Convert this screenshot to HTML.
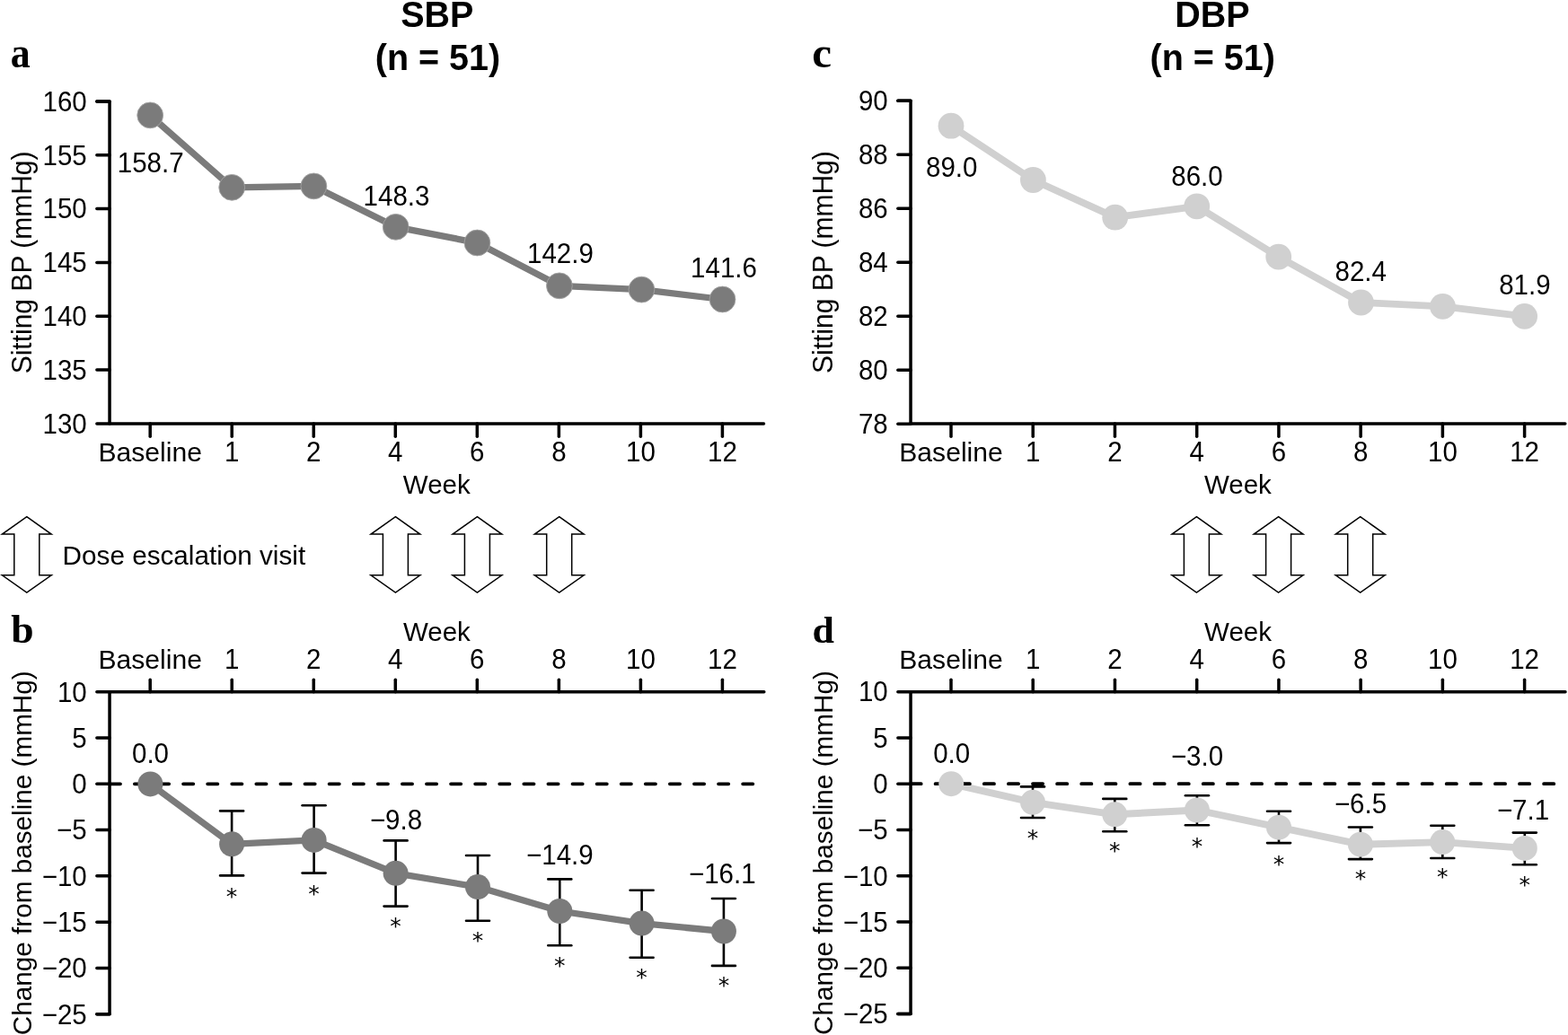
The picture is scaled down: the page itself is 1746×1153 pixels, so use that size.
<!DOCTYPE html>
<html><head><meta charset="utf-8"><title>SBP and DBP over time</title>
<style>html,body{margin:0;padding:0;background:#fff;} svg{display:block;}</style>
</head><body>
<svg width="1746" height="1153" viewBox="0 0 1746 1153">
<rect width="1746" height="1153" fill="#fff"/>
<text transform="translate(486.80,30.20) scale(1,1.045)" text-anchor="middle" font-size="39.5" font-weight="bold" font-family='"Liberation Sans", Arial, sans-serif' >SBP</text>
<text transform="translate(487.40,77.90) scale(1,1.03)" text-anchor="middle" font-size="39.5" font-weight="bold" font-family='"Liberation Sans", Arial, sans-serif' >(n = 51)</text>
<text transform="translate(1350.00,30.20) scale(1,1.045)" text-anchor="middle" font-size="39.5" font-weight="bold" font-family='"Liberation Sans", Arial, sans-serif' >DBP</text>
<text transform="translate(1350.20,77.90) scale(1,1.03)" text-anchor="middle" font-size="39.5" font-weight="bold" font-family='"Liberation Sans", Arial, sans-serif' >(n = 51)</text>
<text transform="translate(11.8,74.7) scale(1.02,1.12)" font-size="43" font-weight="bold" font-family='"Liberation Serif", "Times New Roman", serif'>a</text>
<text transform="translate(904.3,74.6) scale(1.14,1.12)" font-size="43" font-weight="bold" font-family='"Liberation Serif", "Times New Roman", serif'>c</text>
<text transform="translate(12.3,716.0) scale(1.06,1.04)" font-size="43" font-weight="bold" font-family='"Liberation Serif", "Times New Roman", serif'>b</text>
<text transform="translate(904.4,715.5) scale(1.02,1.0)" font-size="43" font-weight="bold" font-family='"Liberation Serif", "Times New Roman", serif'>d</text>
<polyline points="107.85,112.90 122.05,112.90 122.05,471.95 850.50,471.95" fill="none" stroke="#000" stroke-width="3.5" stroke-linecap="round" stroke-linejoin="round" />
<line x1="107.85" y1="112.90" x2="122.05" y2="112.90" stroke="#000" stroke-width="3.5" stroke-linecap="round" />
<text transform="translate(96.75,123.75) scale(1,1.045)" text-anchor="end" font-size="29.5" font-weight="normal" font-family='"Liberation Sans", Arial, sans-serif' >160</text>
<line x1="107.85" y1="172.74" x2="122.05" y2="172.74" stroke="#000" stroke-width="3.5" stroke-linecap="round" />
<text transform="translate(96.75,183.59) scale(1,1.045)" text-anchor="end" font-size="29.5" font-weight="normal" font-family='"Liberation Sans", Arial, sans-serif' >155</text>
<line x1="107.85" y1="232.58" x2="122.05" y2="232.58" stroke="#000" stroke-width="3.5" stroke-linecap="round" />
<text transform="translate(96.75,243.43) scale(1,1.045)" text-anchor="end" font-size="29.5" font-weight="normal" font-family='"Liberation Sans", Arial, sans-serif' >150</text>
<line x1="107.85" y1="292.42" x2="122.05" y2="292.42" stroke="#000" stroke-width="3.5" stroke-linecap="round" />
<text transform="translate(96.75,303.27) scale(1,1.045)" text-anchor="end" font-size="29.5" font-weight="normal" font-family='"Liberation Sans", Arial, sans-serif' >145</text>
<line x1="107.85" y1="352.26" x2="122.05" y2="352.26" stroke="#000" stroke-width="3.5" stroke-linecap="round" />
<text transform="translate(96.75,363.11) scale(1,1.045)" text-anchor="end" font-size="29.5" font-weight="normal" font-family='"Liberation Sans", Arial, sans-serif' >140</text>
<line x1="107.85" y1="412.10" x2="122.05" y2="412.10" stroke="#000" stroke-width="3.5" stroke-linecap="round" />
<text transform="translate(96.75,422.95) scale(1,1.045)" text-anchor="end" font-size="29.5" font-weight="normal" font-family='"Liberation Sans", Arial, sans-serif' >135</text>
<line x1="107.85" y1="471.94" x2="122.05" y2="471.94" stroke="#000" stroke-width="3.5" stroke-linecap="round" />
<text transform="translate(96.75,482.79) scale(1,1.045)" text-anchor="end" font-size="29.5" font-weight="normal" font-family='"Liberation Sans", Arial, sans-serif' >130</text>
<line x1="167.20" y1="471.95" x2="167.20" y2="486.15" stroke="#000" stroke-width="3.5" stroke-linecap="round" />
<text transform="translate(167.20,514.30) scale(1,1.01)" text-anchor="middle" font-size="30.1" font-weight="normal" font-family='"Liberation Sans", Arial, sans-serif' >Baseline</text>
<line x1="258.23" y1="471.95" x2="258.23" y2="486.15" stroke="#000" stroke-width="3.5" stroke-linecap="round" />
<text transform="translate(258.23,514.30) scale(1,1.045)" text-anchor="middle" font-size="29.5" font-weight="normal" font-family='"Liberation Sans", Arial, sans-serif' >1</text>
<line x1="349.26" y1="471.95" x2="349.26" y2="486.15" stroke="#000" stroke-width="3.5" stroke-linecap="round" />
<text transform="translate(349.26,514.30) scale(1,1.045)" text-anchor="middle" font-size="29.5" font-weight="normal" font-family='"Liberation Sans", Arial, sans-serif' >2</text>
<line x1="440.29" y1="471.95" x2="440.29" y2="486.15" stroke="#000" stroke-width="3.5" stroke-linecap="round" />
<text transform="translate(440.29,514.30) scale(1,1.045)" text-anchor="middle" font-size="29.5" font-weight="normal" font-family='"Liberation Sans", Arial, sans-serif' >4</text>
<line x1="531.32" y1="471.95" x2="531.32" y2="486.15" stroke="#000" stroke-width="3.5" stroke-linecap="round" />
<text transform="translate(531.32,514.30) scale(1,1.045)" text-anchor="middle" font-size="29.5" font-weight="normal" font-family='"Liberation Sans", Arial, sans-serif' >6</text>
<line x1="622.35" y1="471.95" x2="622.35" y2="486.15" stroke="#000" stroke-width="3.5" stroke-linecap="round" />
<text transform="translate(622.35,514.30) scale(1,1.045)" text-anchor="middle" font-size="29.5" font-weight="normal" font-family='"Liberation Sans", Arial, sans-serif' >8</text>
<line x1="713.38" y1="471.95" x2="713.38" y2="486.15" stroke="#000" stroke-width="3.5" stroke-linecap="round" />
<text transform="translate(713.38,514.30) scale(1,1.045)" text-anchor="middle" font-size="29.5" font-weight="normal" font-family='"Liberation Sans", Arial, sans-serif' >10</text>
<line x1="804.41" y1="471.95" x2="804.41" y2="486.15" stroke="#000" stroke-width="3.5" stroke-linecap="round" />
<text transform="translate(804.41,514.30) scale(1,1.045)" text-anchor="middle" font-size="29.5" font-weight="normal" font-family='"Liberation Sans", Arial, sans-serif' >12</text>
<text transform="translate(486.27,550.00) scale(1,1.01)" text-anchor="middle" font-size="29.5" font-weight="normal" font-family='"Liberation Sans", Arial, sans-serif' >Week</text>
<text x="0" y="0" transform="translate(35.00,292.43) rotate(-90) scale(1,1.02)" text-anchor="middle" font-size="30.0" font-family='"Liberation Sans", Arial, sans-serif'>Sitting BP (mmHg)</text>
<polyline points="167.20,128.40 258.20,208.80 349.40,207.40 440.70,252.80 531.40,270.50 622.90,318.35 714.40,322.60 804.50,333.50" fill="none" stroke="#7b7b7b" stroke-width="7.3" stroke-linecap="round" stroke-linejoin="round" />
<circle cx="167.20" cy="128.40" r="14.4" fill="#7b7b7b" stroke="#a3a3a3" stroke-width="0.9"/>
<circle cx="258.20" cy="208.80" r="14.4" fill="#7b7b7b" stroke="#a3a3a3" stroke-width="0.9"/>
<circle cx="349.40" cy="207.40" r="14.4" fill="#7b7b7b" stroke="#a3a3a3" stroke-width="0.9"/>
<circle cx="440.70" cy="252.80" r="14.4" fill="#7b7b7b" stroke="#a3a3a3" stroke-width="0.9"/>
<circle cx="531.40" cy="270.50" r="14.4" fill="#7b7b7b" stroke="#a3a3a3" stroke-width="0.9"/>
<circle cx="622.90" cy="318.35" r="14.4" fill="#7b7b7b" stroke="#a3a3a3" stroke-width="0.9"/>
<circle cx="714.40" cy="322.60" r="14.4" fill="#7b7b7b" stroke="#a3a3a3" stroke-width="0.9"/>
<circle cx="804.50" cy="333.50" r="14.4" fill="#7b7b7b" stroke="#a3a3a3" stroke-width="0.9"/>
<text transform="translate(167.70,192.10) scale(1,1.045)" text-anchor="middle" font-size="29.5" font-weight="normal" font-family='"Liberation Sans", Arial, sans-serif' >158.7</text>
<text transform="translate(441.50,228.70) scale(1,1.045)" text-anchor="middle" font-size="29.5" font-weight="normal" font-family='"Liberation Sans", Arial, sans-serif' >148.3</text>
<text transform="translate(623.90,292.70) scale(1,1.045)" text-anchor="middle" font-size="29.5" font-weight="normal" font-family='"Liberation Sans", Arial, sans-serif' >142.9</text>
<text transform="translate(806.00,309.10) scale(1,1.045)" text-anchor="middle" font-size="29.5" font-weight="normal" font-family='"Liberation Sans", Arial, sans-serif' >141.6</text>
<polyline points="999.85,112.20 1014.05,112.20 1014.05,472.10 1742.80,472.10" fill="none" stroke="#000" stroke-width="3.5" stroke-linecap="round" stroke-linejoin="round" />
<line x1="999.85" y1="112.20" x2="1014.05" y2="112.20" stroke="#000" stroke-width="3.5" stroke-linecap="round" />
<text transform="translate(988.75,123.05) scale(1,1.045)" text-anchor="end" font-size="29.5" font-weight="normal" font-family='"Liberation Sans", Arial, sans-serif' >90</text>
<line x1="999.85" y1="172.20" x2="1014.05" y2="172.20" stroke="#000" stroke-width="3.5" stroke-linecap="round" />
<text transform="translate(988.75,183.05) scale(1,1.045)" text-anchor="end" font-size="29.5" font-weight="normal" font-family='"Liberation Sans", Arial, sans-serif' >88</text>
<line x1="999.85" y1="232.20" x2="1014.05" y2="232.20" stroke="#000" stroke-width="3.5" stroke-linecap="round" />
<text transform="translate(988.75,243.05) scale(1,1.045)" text-anchor="end" font-size="29.5" font-weight="normal" font-family='"Liberation Sans", Arial, sans-serif' >86</text>
<line x1="999.85" y1="292.20" x2="1014.05" y2="292.20" stroke="#000" stroke-width="3.5" stroke-linecap="round" />
<text transform="translate(988.75,303.05) scale(1,1.045)" text-anchor="end" font-size="29.5" font-weight="normal" font-family='"Liberation Sans", Arial, sans-serif' >84</text>
<line x1="999.85" y1="352.20" x2="1014.05" y2="352.20" stroke="#000" stroke-width="3.5" stroke-linecap="round" />
<text transform="translate(988.75,363.05) scale(1,1.045)" text-anchor="end" font-size="29.5" font-weight="normal" font-family='"Liberation Sans", Arial, sans-serif' >82</text>
<line x1="999.85" y1="412.20" x2="1014.05" y2="412.20" stroke="#000" stroke-width="3.5" stroke-linecap="round" />
<text transform="translate(988.75,423.05) scale(1,1.045)" text-anchor="end" font-size="29.5" font-weight="normal" font-family='"Liberation Sans", Arial, sans-serif' >80</text>
<line x1="999.85" y1="472.20" x2="1014.05" y2="472.20" stroke="#000" stroke-width="3.5" stroke-linecap="round" />
<text transform="translate(988.75,483.05) scale(1,1.045)" text-anchor="end" font-size="29.5" font-weight="normal" font-family='"Liberation Sans", Arial, sans-serif' >78</text>
<line x1="1059.00" y1="472.10" x2="1059.00" y2="486.30" stroke="#000" stroke-width="3.5" stroke-linecap="round" />
<text transform="translate(1059.00,514.30) scale(1,1.01)" text-anchor="middle" font-size="30.1" font-weight="normal" font-family='"Liberation Sans", Arial, sans-serif' >Baseline</text>
<line x1="1150.23" y1="472.10" x2="1150.23" y2="486.30" stroke="#000" stroke-width="3.5" stroke-linecap="round" />
<text transform="translate(1150.23,514.30) scale(1,1.045)" text-anchor="middle" font-size="29.5" font-weight="normal" font-family='"Liberation Sans", Arial, sans-serif' >1</text>
<line x1="1241.46" y1="472.10" x2="1241.46" y2="486.30" stroke="#000" stroke-width="3.5" stroke-linecap="round" />
<text transform="translate(1241.46,514.30) scale(1,1.045)" text-anchor="middle" font-size="29.5" font-weight="normal" font-family='"Liberation Sans", Arial, sans-serif' >2</text>
<line x1="1332.69" y1="472.10" x2="1332.69" y2="486.30" stroke="#000" stroke-width="3.5" stroke-linecap="round" />
<text transform="translate(1332.69,514.30) scale(1,1.045)" text-anchor="middle" font-size="29.5" font-weight="normal" font-family='"Liberation Sans", Arial, sans-serif' >4</text>
<line x1="1423.92" y1="472.10" x2="1423.92" y2="486.30" stroke="#000" stroke-width="3.5" stroke-linecap="round" />
<text transform="translate(1423.92,514.30) scale(1,1.045)" text-anchor="middle" font-size="29.5" font-weight="normal" font-family='"Liberation Sans", Arial, sans-serif' >6</text>
<line x1="1515.15" y1="472.10" x2="1515.15" y2="486.30" stroke="#000" stroke-width="3.5" stroke-linecap="round" />
<text transform="translate(1515.15,514.30) scale(1,1.045)" text-anchor="middle" font-size="29.5" font-weight="normal" font-family='"Liberation Sans", Arial, sans-serif' >8</text>
<line x1="1606.38" y1="472.10" x2="1606.38" y2="486.30" stroke="#000" stroke-width="3.5" stroke-linecap="round" />
<text transform="translate(1606.38,514.30) scale(1,1.045)" text-anchor="middle" font-size="29.5" font-weight="normal" font-family='"Liberation Sans", Arial, sans-serif' >10</text>
<line x1="1697.61" y1="472.10" x2="1697.61" y2="486.30" stroke="#000" stroke-width="3.5" stroke-linecap="round" />
<text transform="translate(1697.61,514.30) scale(1,1.045)" text-anchor="middle" font-size="29.5" font-weight="normal" font-family='"Liberation Sans", Arial, sans-serif' >12</text>
<text transform="translate(1378.42,550.00) scale(1,1.01)" text-anchor="middle" font-size="29.5" font-weight="normal" font-family='"Liberation Sans", Arial, sans-serif' >Week</text>
<text x="0" y="0" transform="translate(927.00,292.15) rotate(-90) scale(1,1.02)" text-anchor="middle" font-size="30.0" font-family='"Liberation Sans", Arial, sans-serif'>Sitting BP (mmHg)</text>
<polyline points="1059.00,140.20 1150.40,200.50 1241.70,242.20 1332.70,229.80 1423.70,286.10 1515.50,337.00 1606.50,341.40 1697.60,352.40" fill="none" stroke="#d0d0d0" stroke-width="7.9" stroke-linecap="round" stroke-linejoin="round" />
<circle cx="1059.00" cy="140.20" r="14.4" fill="#d0d0d0" stroke="#d0d0d0" stroke-width="0"/>
<circle cx="1150.40" cy="200.50" r="14.4" fill="#d0d0d0" stroke="#d0d0d0" stroke-width="0"/>
<circle cx="1241.70" cy="242.20" r="14.4" fill="#d0d0d0" stroke="#d0d0d0" stroke-width="0"/>
<circle cx="1332.70" cy="229.80" r="14.4" fill="#d0d0d0" stroke="#d0d0d0" stroke-width="0"/>
<circle cx="1423.70" cy="286.10" r="14.4" fill="#d0d0d0" stroke="#d0d0d0" stroke-width="0"/>
<circle cx="1515.50" cy="337.00" r="14.4" fill="#d0d0d0" stroke="#d0d0d0" stroke-width="0"/>
<circle cx="1606.50" cy="341.40" r="14.4" fill="#d0d0d0" stroke="#d0d0d0" stroke-width="0"/>
<circle cx="1697.60" cy="352.40" r="14.4" fill="#d0d0d0" stroke="#d0d0d0" stroke-width="0"/>
<text transform="translate(1059.70,197.20) scale(1,1.045)" text-anchor="middle" font-size="29.5" font-weight="normal" font-family='"Liberation Sans", Arial, sans-serif' >89.0</text>
<text transform="translate(1333.00,206.50) scale(1,1.045)" text-anchor="middle" font-size="29.5" font-weight="normal" font-family='"Liberation Sans", Arial, sans-serif' >86.0</text>
<text transform="translate(1515.20,313.00) scale(1,1.045)" text-anchor="middle" font-size="29.5" font-weight="normal" font-family='"Liberation Sans", Arial, sans-serif' >82.4</text>
<text transform="translate(1697.90,328.10) scale(1,1.045)" text-anchor="middle" font-size="29.5" font-weight="normal" font-family='"Liberation Sans", Arial, sans-serif' >81.9</text>
<polygon points="29.80,575.60 57.20,595.10 43.80,595.10 43.80,640.80 57.20,640.80 29.80,660.00 2.40,640.80 15.80,640.80 15.80,595.10 2.40,595.10" fill="#fff" stroke="#000" stroke-width="1.5" stroke-linejoin="miter"/>
<polygon points="440.40,575.60 467.80,595.10 454.40,595.10 454.40,640.80 467.80,640.80 440.40,660.00 413.00,640.80 426.40,640.80 426.40,595.10 413.00,595.10" fill="#fff" stroke="#000" stroke-width="1.5" stroke-linejoin="miter"/>
<polygon points="531.40,575.60 558.80,595.10 545.40,595.10 545.40,640.80 558.80,640.80 531.40,660.00 504.00,640.80 517.40,640.80 517.40,595.10 504.00,595.10" fill="#fff" stroke="#000" stroke-width="1.5" stroke-linejoin="miter"/>
<polygon points="622.70,575.60 650.10,595.10 636.70,595.10 636.70,640.80 650.10,640.80 622.70,660.00 595.30,640.80 608.70,640.80 608.70,595.10 595.30,595.10" fill="#fff" stroke="#000" stroke-width="1.5" stroke-linejoin="miter"/>
<polygon points="1332.40,575.60 1359.80,595.10 1346.40,595.10 1346.40,640.80 1359.80,640.80 1332.40,660.00 1305.00,640.80 1318.40,640.80 1318.40,595.10 1305.00,595.10" fill="#fff" stroke="#000" stroke-width="1.5" stroke-linejoin="miter"/>
<polygon points="1423.60,575.60 1451.00,595.10 1437.60,595.10 1437.60,640.80 1451.00,640.80 1423.60,660.00 1396.20,640.80 1409.60,640.80 1409.60,595.10 1396.20,595.10" fill="#fff" stroke="#000" stroke-width="1.5" stroke-linejoin="miter"/>
<polygon points="1514.70,575.60 1542.10,595.10 1528.70,595.10 1528.70,640.80 1542.10,640.80 1514.70,660.00 1487.30,640.80 1500.70,640.80 1500.70,595.10 1487.30,595.10" fill="#fff" stroke="#000" stroke-width="1.5" stroke-linejoin="miter"/>
<text transform="translate(69.60,628.90) scale(1,1.01)" text-anchor="start" font-size="29.7" font-weight="normal" font-family='"Liberation Sans", Arial, sans-serif' >Dose escalation visit</text>
<polyline points="850.80,770.73 122.05,770.73 122.05,1129.72 107.85,1129.72" fill="none" stroke="#000" stroke-width="3.5" stroke-linecap="round" stroke-linejoin="round" />
<line x1="107.85" y1="770.73" x2="122.05" y2="770.73" stroke="#000" stroke-width="3.5" stroke-linecap="round" />
<text transform="translate(96.75,781.58) scale(1,1.045)" text-anchor="end" font-size="29.5" font-weight="normal" font-family='"Liberation Sans", Arial, sans-serif' >10</text>
<line x1="107.85" y1="822.01" x2="122.05" y2="822.01" stroke="#000" stroke-width="3.5" stroke-linecap="round" />
<text transform="translate(96.75,832.87) scale(1,1.045)" text-anchor="end" font-size="29.5" font-weight="normal" font-family='"Liberation Sans", Arial, sans-serif' >5</text>
<line x1="107.85" y1="873.30" x2="122.05" y2="873.30" stroke="#000" stroke-width="3.5" stroke-linecap="round" />
<text transform="translate(96.75,884.15) scale(1,1.045)" text-anchor="end" font-size="29.5" font-weight="normal" font-family='"Liberation Sans", Arial, sans-serif' >0</text>
<line x1="107.85" y1="924.58" x2="122.05" y2="924.58" stroke="#000" stroke-width="3.5" stroke-linecap="round" />
<text transform="translate(96.75,935.43) scale(1,1.045)" text-anchor="end" font-size="29.5" font-weight="normal" font-family='"Liberation Sans", Arial, sans-serif' >−5</text>
<line x1="107.85" y1="975.87" x2="122.05" y2="975.87" stroke="#000" stroke-width="3.5" stroke-linecap="round" />
<text transform="translate(96.75,986.72) scale(1,1.045)" text-anchor="end" font-size="29.5" font-weight="normal" font-family='"Liberation Sans", Arial, sans-serif' >−10</text>
<line x1="107.85" y1="1027.15" x2="122.05" y2="1027.15" stroke="#000" stroke-width="3.5" stroke-linecap="round" />
<text transform="translate(96.75,1038.00) scale(1,1.045)" text-anchor="end" font-size="29.5" font-weight="normal" font-family='"Liberation Sans", Arial, sans-serif' >−15</text>
<line x1="107.85" y1="1078.44" x2="122.05" y2="1078.44" stroke="#000" stroke-width="3.5" stroke-linecap="round" />
<text transform="translate(96.75,1089.29) scale(1,1.045)" text-anchor="end" font-size="29.5" font-weight="normal" font-family='"Liberation Sans", Arial, sans-serif' >−20</text>
<line x1="107.85" y1="1129.72" x2="122.05" y2="1129.72" stroke="#000" stroke-width="3.5" stroke-linecap="round" />
<text transform="translate(96.75,1140.57) scale(1,1.045)" text-anchor="end" font-size="29.5" font-weight="normal" font-family='"Liberation Sans", Arial, sans-serif' >−25</text>
<line x1="167.20" y1="770.73" x2="167.20" y2="757.23" stroke="#000" stroke-width="3.5" stroke-linecap="round" />
<text transform="translate(167.20,745.30) scale(1,1.01)" text-anchor="middle" font-size="30.1" font-weight="normal" font-family='"Liberation Sans", Arial, sans-serif' >Baseline</text>
<line x1="258.23" y1="770.73" x2="258.23" y2="757.23" stroke="#000" stroke-width="3.5" stroke-linecap="round" />
<text transform="translate(258.23,745.30) scale(1,1.045)" text-anchor="middle" font-size="29.5" font-weight="normal" font-family='"Liberation Sans", Arial, sans-serif' >1</text>
<line x1="349.26" y1="770.73" x2="349.26" y2="757.23" stroke="#000" stroke-width="3.5" stroke-linecap="round" />
<text transform="translate(349.26,745.30) scale(1,1.045)" text-anchor="middle" font-size="29.5" font-weight="normal" font-family='"Liberation Sans", Arial, sans-serif' >2</text>
<line x1="440.29" y1="770.73" x2="440.29" y2="757.23" stroke="#000" stroke-width="3.5" stroke-linecap="round" />
<text transform="translate(440.29,745.30) scale(1,1.045)" text-anchor="middle" font-size="29.5" font-weight="normal" font-family='"Liberation Sans", Arial, sans-serif' >4</text>
<line x1="531.32" y1="770.73" x2="531.32" y2="757.23" stroke="#000" stroke-width="3.5" stroke-linecap="round" />
<text transform="translate(531.32,745.30) scale(1,1.045)" text-anchor="middle" font-size="29.5" font-weight="normal" font-family='"Liberation Sans", Arial, sans-serif' >6</text>
<line x1="622.35" y1="770.73" x2="622.35" y2="757.23" stroke="#000" stroke-width="3.5" stroke-linecap="round" />
<text transform="translate(622.35,745.30) scale(1,1.045)" text-anchor="middle" font-size="29.5" font-weight="normal" font-family='"Liberation Sans", Arial, sans-serif' >8</text>
<line x1="713.38" y1="770.73" x2="713.38" y2="757.23" stroke="#000" stroke-width="3.5" stroke-linecap="round" />
<text transform="translate(713.38,745.30) scale(1,1.045)" text-anchor="middle" font-size="29.5" font-weight="normal" font-family='"Liberation Sans", Arial, sans-serif' >10</text>
<line x1="804.41" y1="770.73" x2="804.41" y2="757.23" stroke="#000" stroke-width="3.5" stroke-linecap="round" />
<text transform="translate(804.41,745.30) scale(1,1.045)" text-anchor="middle" font-size="29.5" font-weight="normal" font-family='"Liberation Sans", Arial, sans-serif' >12</text>
<text transform="translate(486.42,713.90) scale(1,1.01)" text-anchor="middle" font-size="29.5" font-weight="normal" font-family='"Liberation Sans", Arial, sans-serif' >Week</text>
<text x="0" y="0" transform="translate(35.00,950.23) rotate(-90) scale(1,1.02)" text-anchor="middle" font-size="29.7" font-family='"Liberation Sans", Arial, sans-serif'>Change from baseline (mmHg)</text>
<polyline points="167.40,873.40 258.10,940.30 349.60,935.90 440.60,972.80 532.00,988.10 623.30,1015.00 714.60,1028.60 805.90,1037.50" fill="none" stroke="#7b7b7b" stroke-width="7.3" stroke-linecap="round" stroke-linejoin="round" />
<line x1="122.80" y1="873.30" x2="838.50" y2="873.30" stroke="#000" stroke-width="3.8" stroke-linecap="round" stroke-dasharray="11.2 15.89"/>
<line x1="258.10" y1="903.40" x2="258.10" y2="975.40" stroke="#000" stroke-width="2.6" stroke-linecap="butt" />
<line x1="245.10" y1="903.40" x2="271.10" y2="903.40" stroke="#000" stroke-width="2.6" stroke-linecap="round" />
<line x1="245.10" y1="975.40" x2="271.10" y2="975.40" stroke="#000" stroke-width="2.6" stroke-linecap="round" />
<line x1="349.60" y1="897.30" x2="349.60" y2="972.60" stroke="#000" stroke-width="2.6" stroke-linecap="butt" />
<line x1="336.60" y1="897.30" x2="362.60" y2="897.30" stroke="#000" stroke-width="2.6" stroke-linecap="round" />
<line x1="336.60" y1="972.60" x2="362.60" y2="972.60" stroke="#000" stroke-width="2.6" stroke-linecap="round" />
<line x1="440.60" y1="936.40" x2="440.60" y2="1009.60" stroke="#000" stroke-width="2.6" stroke-linecap="butt" />
<line x1="427.60" y1="936.40" x2="453.60" y2="936.40" stroke="#000" stroke-width="2.6" stroke-linecap="round" />
<line x1="427.60" y1="1009.60" x2="453.60" y2="1009.60" stroke="#000" stroke-width="2.6" stroke-linecap="round" />
<line x1="532.00" y1="953.00" x2="532.00" y2="1025.80" stroke="#000" stroke-width="2.6" stroke-linecap="butt" />
<line x1="519.00" y1="953.00" x2="545.00" y2="953.00" stroke="#000" stroke-width="2.6" stroke-linecap="round" />
<line x1="519.00" y1="1025.80" x2="545.00" y2="1025.80" stroke="#000" stroke-width="2.6" stroke-linecap="round" />
<line x1="623.30" y1="979.40" x2="623.30" y2="1053.20" stroke="#000" stroke-width="2.6" stroke-linecap="butt" />
<line x1="610.30" y1="979.40" x2="636.30" y2="979.40" stroke="#000" stroke-width="2.6" stroke-linecap="round" />
<line x1="610.30" y1="1053.20" x2="636.30" y2="1053.20" stroke="#000" stroke-width="2.6" stroke-linecap="round" />
<line x1="714.60" y1="991.80" x2="714.60" y2="1066.70" stroke="#000" stroke-width="2.6" stroke-linecap="butt" />
<line x1="701.60" y1="991.80" x2="727.60" y2="991.80" stroke="#000" stroke-width="2.6" stroke-linecap="round" />
<line x1="701.60" y1="1066.70" x2="727.60" y2="1066.70" stroke="#000" stroke-width="2.6" stroke-linecap="round" />
<line x1="805.90" y1="1001.00" x2="805.90" y2="1075.90" stroke="#000" stroke-width="2.6" stroke-linecap="butt" />
<line x1="792.90" y1="1001.00" x2="818.90" y2="1001.00" stroke="#000" stroke-width="2.6" stroke-linecap="round" />
<line x1="792.90" y1="1075.90" x2="818.90" y2="1075.90" stroke="#000" stroke-width="2.6" stroke-linecap="round" />
<circle cx="167.40" cy="873.40" r="14.0" fill="#7b7b7b"/>
<circle cx="258.10" cy="940.30" r="14.0" fill="#7b7b7b"/>
<circle cx="349.60" cy="935.90" r="14.0" fill="#7b7b7b"/>
<circle cx="440.60" cy="972.80" r="14.0" fill="#7b7b7b"/>
<circle cx="532.00" cy="988.10" r="14.0" fill="#7b7b7b"/>
<circle cx="623.30" cy="1015.00" r="14.0" fill="#7b7b7b"/>
<circle cx="714.60" cy="1028.60" r="14.0" fill="#7b7b7b"/>
<circle cx="805.90" cy="1037.50" r="14.0" fill="#7b7b7b"/>
<text x="258.10" y="1007.00" text-anchor="middle" font-size="25" font-family='"DejaVu Sans", sans-serif'>*</text>
<text x="349.60" y="1003.50" text-anchor="middle" font-size="25" font-family='"DejaVu Sans", sans-serif'>*</text>
<text x="440.60" y="1039.50" text-anchor="middle" font-size="25" font-family='"DejaVu Sans", sans-serif'>*</text>
<text x="532.00" y="1056.30" text-anchor="middle" font-size="25" font-family='"DejaVu Sans", sans-serif'>*</text>
<text x="623.30" y="1084.40" text-anchor="middle" font-size="25" font-family='"DejaVu Sans", sans-serif'>*</text>
<text x="714.60" y="1097.10" text-anchor="middle" font-size="25" font-family='"DejaVu Sans", sans-serif'>*</text>
<text x="805.90" y="1106.40" text-anchor="middle" font-size="25" font-family='"DejaVu Sans", sans-serif'>*</text>
<text transform="translate(167.50,849.50) scale(1,1.045)" text-anchor="middle" font-size="29.5" font-weight="normal" font-family='"Liberation Sans", Arial, sans-serif' >0.0</text>
<text transform="translate(441.00,924.40) scale(1,1.045)" text-anchor="middle" font-size="29.5" font-weight="normal" font-family='"Liberation Sans", Arial, sans-serif' >−9.8</text>
<text transform="translate(623.40,962.80) scale(1,1.045)" text-anchor="middle" font-size="29.5" font-weight="normal" font-family='"Liberation Sans", Arial, sans-serif' >−14.9</text>
<text transform="translate(804.30,983.90) scale(1,1.045)" text-anchor="middle" font-size="29.5" font-weight="normal" font-family='"Liberation Sans", Arial, sans-serif' >−16.1</text>
<polyline points="1743.00,770.63 1014.05,770.63 1014.05,1129.62 999.85,1129.62" fill="none" stroke="#000" stroke-width="3.5" stroke-linecap="round" stroke-linejoin="round" />
<line x1="999.85" y1="770.63" x2="1014.05" y2="770.63" stroke="#000" stroke-width="3.5" stroke-linecap="round" />
<text transform="translate(988.75,781.48) scale(1,1.045)" text-anchor="end" font-size="29.5" font-weight="normal" font-family='"Liberation Sans", Arial, sans-serif' >10</text>
<line x1="999.85" y1="821.92" x2="1014.05" y2="821.92" stroke="#000" stroke-width="3.5" stroke-linecap="round" />
<text transform="translate(988.75,832.77) scale(1,1.045)" text-anchor="end" font-size="29.5" font-weight="normal" font-family='"Liberation Sans", Arial, sans-serif' >5</text>
<line x1="999.85" y1="873.20" x2="1014.05" y2="873.20" stroke="#000" stroke-width="3.5" stroke-linecap="round" />
<text transform="translate(988.75,884.05) scale(1,1.045)" text-anchor="end" font-size="29.5" font-weight="normal" font-family='"Liberation Sans", Arial, sans-serif' >0</text>
<line x1="999.85" y1="924.49" x2="1014.05" y2="924.49" stroke="#000" stroke-width="3.5" stroke-linecap="round" />
<text transform="translate(988.75,935.34) scale(1,1.045)" text-anchor="end" font-size="29.5" font-weight="normal" font-family='"Liberation Sans", Arial, sans-serif' >−5</text>
<line x1="999.85" y1="975.77" x2="1014.05" y2="975.77" stroke="#000" stroke-width="3.5" stroke-linecap="round" />
<text transform="translate(988.75,986.62) scale(1,1.045)" text-anchor="end" font-size="29.5" font-weight="normal" font-family='"Liberation Sans", Arial, sans-serif' >−10</text>
<line x1="999.85" y1="1027.06" x2="1014.05" y2="1027.06" stroke="#000" stroke-width="3.5" stroke-linecap="round" />
<text transform="translate(988.75,1037.90) scale(1,1.045)" text-anchor="end" font-size="29.5" font-weight="normal" font-family='"Liberation Sans", Arial, sans-serif' >−15</text>
<line x1="999.85" y1="1078.34" x2="1014.05" y2="1078.34" stroke="#000" stroke-width="3.5" stroke-linecap="round" />
<text transform="translate(988.75,1089.19) scale(1,1.045)" text-anchor="end" font-size="29.5" font-weight="normal" font-family='"Liberation Sans", Arial, sans-serif' >−20</text>
<line x1="999.85" y1="1129.62" x2="1014.05" y2="1129.62" stroke="#000" stroke-width="3.5" stroke-linecap="round" />
<text transform="translate(988.75,1140.47) scale(1,1.045)" text-anchor="end" font-size="29.5" font-weight="normal" font-family='"Liberation Sans", Arial, sans-serif' >−25</text>
<line x1="1059.00" y1="770.63" x2="1059.00" y2="757.13" stroke="#000" stroke-width="3.5" stroke-linecap="round" />
<text transform="translate(1059.00,745.30) scale(1,1.01)" text-anchor="middle" font-size="30.1" font-weight="normal" font-family='"Liberation Sans", Arial, sans-serif' >Baseline</text>
<line x1="1150.23" y1="770.63" x2="1150.23" y2="757.13" stroke="#000" stroke-width="3.5" stroke-linecap="round" />
<text transform="translate(1150.23,745.30) scale(1,1.045)" text-anchor="middle" font-size="29.5" font-weight="normal" font-family='"Liberation Sans", Arial, sans-serif' >1</text>
<line x1="1241.46" y1="770.63" x2="1241.46" y2="757.13" stroke="#000" stroke-width="3.5" stroke-linecap="round" />
<text transform="translate(1241.46,745.30) scale(1,1.045)" text-anchor="middle" font-size="29.5" font-weight="normal" font-family='"Liberation Sans", Arial, sans-serif' >2</text>
<line x1="1332.69" y1="770.63" x2="1332.69" y2="757.13" stroke="#000" stroke-width="3.5" stroke-linecap="round" />
<text transform="translate(1332.69,745.30) scale(1,1.045)" text-anchor="middle" font-size="29.5" font-weight="normal" font-family='"Liberation Sans", Arial, sans-serif' >4</text>
<line x1="1423.92" y1="770.63" x2="1423.92" y2="757.13" stroke="#000" stroke-width="3.5" stroke-linecap="round" />
<text transform="translate(1423.92,745.30) scale(1,1.045)" text-anchor="middle" font-size="29.5" font-weight="normal" font-family='"Liberation Sans", Arial, sans-serif' >6</text>
<line x1="1515.15" y1="770.63" x2="1515.15" y2="757.13" stroke="#000" stroke-width="3.5" stroke-linecap="round" />
<text transform="translate(1515.15,745.30) scale(1,1.045)" text-anchor="middle" font-size="29.5" font-weight="normal" font-family='"Liberation Sans", Arial, sans-serif' >8</text>
<line x1="1606.38" y1="770.63" x2="1606.38" y2="757.13" stroke="#000" stroke-width="3.5" stroke-linecap="round" />
<text transform="translate(1606.38,745.30) scale(1,1.045)" text-anchor="middle" font-size="29.5" font-weight="normal" font-family='"Liberation Sans", Arial, sans-serif' >10</text>
<line x1="1697.61" y1="770.63" x2="1697.61" y2="757.13" stroke="#000" stroke-width="3.5" stroke-linecap="round" />
<text transform="translate(1697.61,745.30) scale(1,1.045)" text-anchor="middle" font-size="29.5" font-weight="normal" font-family='"Liberation Sans", Arial, sans-serif' >12</text>
<text transform="translate(1378.53,713.90) scale(1,1.01)" text-anchor="middle" font-size="29.5" font-weight="normal" font-family='"Liberation Sans", Arial, sans-serif' >Week</text>
<text x="0" y="0" transform="translate(927.00,950.13) rotate(-90) scale(1,1.02)" text-anchor="middle" font-size="29.7" font-family='"Liberation Sans", Arial, sans-serif'>Change from baseline (mmHg)</text>
<polyline points="1059.20,873.20 1150.00,893.80 1241.30,907.30 1332.90,902.50 1424.00,921.70 1514.90,940.70 1606.30,938.10 1697.80,944.90" fill="none" stroke="#d0d0d0" stroke-width="7.9" stroke-linecap="round" stroke-linejoin="round" />
<line x1="1014.50" y1="873.20" x2="1730.30" y2="873.20" stroke="#000" stroke-width="3.8" stroke-linecap="round" stroke-dasharray="11.2 15.90"/>
<line x1="1150.00" y1="876.40" x2="1150.00" y2="911.00" stroke="#000" stroke-width="2.6" stroke-linecap="butt" />
<line x1="1137.00" y1="876.40" x2="1163.00" y2="876.40" stroke="#000" stroke-width="2.6" stroke-linecap="round" />
<line x1="1137.00" y1="911.00" x2="1163.00" y2="911.00" stroke="#000" stroke-width="2.6" stroke-linecap="round" />
<line x1="1241.30" y1="889.90" x2="1241.30" y2="926.20" stroke="#000" stroke-width="2.6" stroke-linecap="butt" />
<line x1="1228.30" y1="889.90" x2="1254.30" y2="889.90" stroke="#000" stroke-width="2.6" stroke-linecap="round" />
<line x1="1228.30" y1="926.20" x2="1254.30" y2="926.20" stroke="#000" stroke-width="2.6" stroke-linecap="round" />
<line x1="1332.90" y1="886.30" x2="1332.90" y2="919.30" stroke="#000" stroke-width="2.6" stroke-linecap="butt" />
<line x1="1319.90" y1="886.30" x2="1345.90" y2="886.30" stroke="#000" stroke-width="2.6" stroke-linecap="round" />
<line x1="1319.90" y1="919.30" x2="1345.90" y2="919.30" stroke="#000" stroke-width="2.6" stroke-linecap="round" />
<line x1="1424.00" y1="903.80" x2="1424.00" y2="939.10" stroke="#000" stroke-width="2.6" stroke-linecap="butt" />
<line x1="1411.00" y1="903.80" x2="1437.00" y2="903.80" stroke="#000" stroke-width="2.6" stroke-linecap="round" />
<line x1="1411.00" y1="939.10" x2="1437.00" y2="939.10" stroke="#000" stroke-width="2.6" stroke-linecap="round" />
<line x1="1514.90" y1="921.50" x2="1514.90" y2="957.10" stroke="#000" stroke-width="2.6" stroke-linecap="butt" />
<line x1="1501.90" y1="921.50" x2="1527.90" y2="921.50" stroke="#000" stroke-width="2.6" stroke-linecap="round" />
<line x1="1501.90" y1="957.10" x2="1527.90" y2="957.10" stroke="#000" stroke-width="2.6" stroke-linecap="round" />
<line x1="1606.30" y1="919.80" x2="1606.30" y2="956.00" stroke="#000" stroke-width="2.6" stroke-linecap="butt" />
<line x1="1593.30" y1="919.80" x2="1619.30" y2="919.80" stroke="#000" stroke-width="2.6" stroke-linecap="round" />
<line x1="1593.30" y1="956.00" x2="1619.30" y2="956.00" stroke="#000" stroke-width="2.6" stroke-linecap="round" />
<line x1="1697.80" y1="927.60" x2="1697.80" y2="963.20" stroke="#000" stroke-width="2.6" stroke-linecap="butt" />
<line x1="1684.80" y1="927.60" x2="1710.80" y2="927.60" stroke="#000" stroke-width="2.6" stroke-linecap="round" />
<line x1="1684.80" y1="963.20" x2="1710.80" y2="963.20" stroke="#000" stroke-width="2.6" stroke-linecap="round" />
<circle cx="1059.20" cy="873.20" r="14.0" fill="#d0d0d0"/>
<circle cx="1150.00" cy="893.80" r="14.0" fill="#d0d0d0"/>
<circle cx="1241.30" cy="907.30" r="14.0" fill="#d0d0d0"/>
<circle cx="1332.90" cy="902.50" r="14.0" fill="#d0d0d0"/>
<circle cx="1424.00" cy="921.70" r="14.0" fill="#d0d0d0"/>
<circle cx="1514.90" cy="940.70" r="14.0" fill="#d0d0d0"/>
<circle cx="1606.30" cy="938.10" r="14.0" fill="#d0d0d0"/>
<circle cx="1697.80" cy="944.90" r="14.0" fill="#d0d0d0"/>
<text x="1150.00" y="941.60" text-anchor="middle" font-size="25" font-family='"DejaVu Sans", sans-serif'>*</text>
<text x="1241.30" y="956.30" text-anchor="middle" font-size="25" font-family='"DejaVu Sans", sans-serif'>*</text>
<text x="1332.90" y="951.00" text-anchor="middle" font-size="25" font-family='"DejaVu Sans", sans-serif'>*</text>
<text x="1424.00" y="971.40" text-anchor="middle" font-size="25" font-family='"DejaVu Sans", sans-serif'>*</text>
<text x="1514.90" y="987.40" text-anchor="middle" font-size="25" font-family='"DejaVu Sans", sans-serif'>*</text>
<text x="1606.30" y="985.40" text-anchor="middle" font-size="25" font-family='"DejaVu Sans", sans-serif'>*</text>
<text x="1697.80" y="994.40" text-anchor="middle" font-size="25" font-family='"DejaVu Sans", sans-serif'>*</text>
<text transform="translate(1059.70,850.20) scale(1,1.045)" text-anchor="middle" font-size="29.5" font-weight="normal" font-family='"Liberation Sans", Arial, sans-serif' >0.0</text>
<text transform="translate(1333.00,853.10) scale(1,1.045)" text-anchor="middle" font-size="29.5" font-weight="normal" font-family='"Liberation Sans", Arial, sans-serif' >−3.0</text>
<text transform="translate(1515.00,906.10) scale(1,1.045)" text-anchor="middle" font-size="29.5" font-weight="normal" font-family='"Liberation Sans", Arial, sans-serif' >−6.5</text>
<text transform="translate(1696.00,913.40) scale(1,1.045)" text-anchor="middle" font-size="29.5" font-weight="normal" font-family='"Liberation Sans", Arial, sans-serif' >−7.1</text>
</svg>
</body></html>
